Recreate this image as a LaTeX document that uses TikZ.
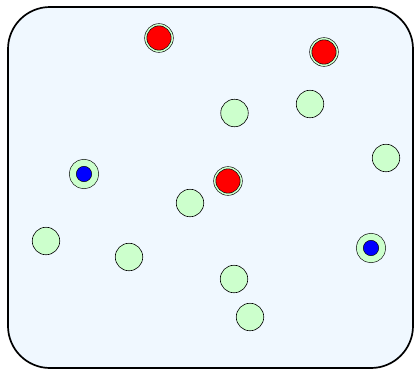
\documentclass[tikz,border=0pt]{standalone}
\usepackage{xcolor}
\definecolor{paleblue}{HTML}{F0F8FF}
\definecolor{palegreen}{HTML}{CCFFCC}

\begin{document}
\begin{tikzpicture}[x=1pt, y=-1pt,
  plain/.style={circle, draw=black, line width=0.6pt, fill=palegreen, inner sep=0pt, minimum size=27.5pt},
  hot/.style={circle, draw=black, line width=0.6pt, double=palegreen, double distance=1.5pt, fill=red, inner sep=0pt, minimum size=26.5pt},
  cold/.style={circle, draw=black, line width=0.6pt, double=palegreen, double distance=6.2pt, fill=blue, inner sep=0pt, minimum size=22.5pt}]

\useasboundingbox (0,0) rectangle (417,370);

% Frame
\draw[line width=1.7pt, fill=paleblue, rounded corners=42pt] (8,7) rectangle (413,368);

% Red nodes
\node[hot] (r1) at (159,38) {};
\node[hot] (r2) at (324,52) {};
\node[hot] (r3) at (228,181) {};

% Blue nodes
\node[cold] (b1) at (84,174) {};
\node[cold] (b2) at (371,248) {};

% Green nodes
\node[plain] (g1) at (234.5,113) {};
\node[plain] (g2) at (310,104) {};
\node[plain] (g3) at (386,158) {};
\node[plain] (g4) at (190,203) {};
\node[plain] (g5) at (46,241) {};
\node[plain] (g6) at (129,257) {};
\node[plain] (g7) at (234,279) {};
\node[plain] (g8) at (250,317) {};

\end{tikzpicture}
\end{document}
